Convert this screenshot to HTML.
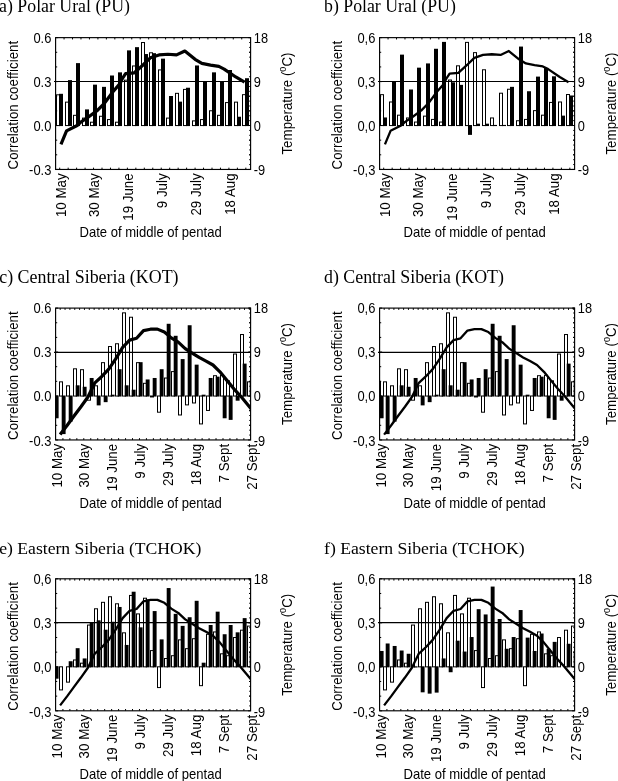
<!DOCTYPE html>
<html><head><meta charset="utf-8"><title>Figure</title>
<style>html,body{margin:0;padding:0;background:#fff}svg{display:block;filter:grayscale(1)}text{font-family:"Liberation Sans",sans-serif;font-size:13.33px;fill:#000}text.x{font-size:13.07px}text.t{font-family:"Liberation Serif",serif;font-size:17.8px}</style>
</head><body>
<svg width="618" height="781" viewBox="0 0 618 781">
<rect width="618" height="781" fill="#fff"/>
<g>
<clipPath id="c0"><rect x="55.6" y="37.64" width="195" height="131.81"/></clipPath>
<g clip-path="url(#c0)"><rect x="56.5" y="94.82" width="3" height="30.75" fill="#fff" stroke="#000" stroke-width="1.0"/><rect x="59" y="93.81" width="4" height="32.26"/><rect x="65.5" y="102.14" width="3" height="23.42" fill="#fff" stroke="#000" stroke-width="1.0"/><rect x="68" y="80.11" width="4" height="45.95"/><rect x="73.5" y="115.32" width="3" height="10.24" fill="#fff" stroke="#000" stroke-width="1.0"/><rect x="76" y="63.12" width="4" height="62.94"/><rect x="82.5" y="118.1" width="3" height="7.46" fill="#fff" stroke="#000" stroke-width="1.0"/><rect x="85" y="109.4" width="4" height="16.66"/><rect x="90.5" y="122.21" width="3" height="3.36" fill="#fff" stroke="#000" stroke-width="1.0"/><rect x="93" y="84.65" width="4" height="41.41"/><rect x="99.5" y="116.27" width="3" height="9.29" fill="#fff" stroke="#000" stroke-width="1.0"/><rect x="102" y="86.85" width="4" height="39.21"/><rect x="107.5" y="119.57" width="3" height="5.99" fill="#fff" stroke="#000" stroke-width="1.0"/><rect x="110" y="75.5" width="4" height="50.56"/><rect x="115.5" y="122.21" width="3" height="3.36" fill="#fff" stroke="#000" stroke-width="1.0"/><rect x="118" y="72.35" width="4" height="53.71"/><rect x="124.5" y="80.17" width="3" height="45.39" fill="#fff" stroke="#000" stroke-width="1.0"/><rect x="127" y="50.38" width="4" height="75.68"/><rect x="132.5" y="65.97" width="3" height="59.6" fill="#fff" stroke="#000" stroke-width="1.0"/><rect x="135" y="47.16" width="4" height="78.9"/><rect x="141.5" y="42.53" width="3" height="83.03" fill="#fff" stroke="#000" stroke-width="1.0"/><rect x="144" y="54.04" width="4" height="72.02"/><rect x="149.5" y="52.79" width="3" height="72.78" fill="#fff" stroke="#000" stroke-width="1.0"/><rect x="152" y="53.16" width="4" height="72.9"/><rect x="158.5" y="69.92" width="3" height="55.64" fill="#fff" stroke="#000" stroke-width="1.0"/><rect x="161" y="58.66" width="4" height="67.41"/><rect x="166.5" y="118.1" width="3" height="7.46" fill="#fff" stroke="#000" stroke-width="1.0"/><rect x="169" y="96" width="4" height="30.06"/><rect x="175.5" y="93.35" width="3" height="32.21" fill="#fff" stroke="#000" stroke-width="1.0"/><rect x="178" y="101.64" width="4" height="24.42"/><rect x="183.5" y="89.4" width="3" height="36.16" fill="#fff" stroke="#000" stroke-width="1.0"/><rect x="186" y="87.73" width="4" height="38.34"/><rect x="192.5" y="120.89" width="3" height="4.68" fill="#fff" stroke="#000" stroke-width="1.0"/><rect x="195" y="65.47" width="4" height="60.6"/><rect x="200.5" y="119.57" width="3" height="5.99" fill="#fff" stroke="#000" stroke-width="1.0"/><rect x="203" y="81.87" width="4" height="44.19"/><rect x="209.5" y="110.78" width="3" height="14.78" fill="#fff" stroke="#000" stroke-width="1.0"/><rect x="212" y="72.35" width="4" height="53.71"/><rect x="217.5" y="115.32" width="3" height="10.24" fill="#fff" stroke="#000" stroke-width="1.0"/><rect x="220" y="81.58" width="4" height="44.49"/><rect x="225.5" y="102.58" width="3" height="22.98" fill="#fff" stroke="#000" stroke-width="1.0"/><rect x="228" y="70.01" width="4" height="56.06"/><rect x="234.5" y="102.14" width="3" height="23.42" fill="#fff" stroke="#000" stroke-width="1.0"/><rect x="237" y="116.73" width="4" height="9.34"/><rect x="242.5" y="94.67" width="3" height="30.89" fill="#fff" stroke="#000" stroke-width="1.0"/><rect x="245" y="78.21" width="4" height="47.86"/></g>
<line x1="54" y1="81.5" x2="250.6" y2="81.5" stroke="#000" stroke-width="1.2"/>
<path d="M55.6 37.64h2.5M250.6 37.64h-2.5M55.6 52.29h1.6M250.6 52.29h-1.6M55.6 66.93h1.6M250.6 66.93h-1.6M55.6 81.58h2.5M250.6 81.58h-2.5M55.6 96.22h1.6M250.6 96.22h-1.6M55.6 110.87h1.6M250.6 110.87h-1.6M55.6 125.51h2.5M250.6 125.51h-2.5M55.6 140.16h1.6M250.6 140.16h-1.6M55.6 154.8h1.6M250.6 154.8h-1.6M55.6 169.45h2.5M250.6 169.45h-2.5M250.6 37.64h-1.4M250.6 42.52h-1.4M250.6 47.4h-1.4M250.6 52.29h-1.4M250.6 57.17h-1.4M250.6 62.05h-1.4M250.6 66.93h-1.4M250.6 71.81h-1.4M250.6 76.69h-1.4M250.6 81.58h-1.4M250.6 86.46h-1.4M250.6 91.34h-1.4M250.6 96.22h-1.4M250.6 101.1h-1.4M250.6 105.99h-1.4M250.6 110.87h-1.4M250.6 115.75h-1.4M250.6 120.63h-1.4M250.6 125.51h-1.4M250.6 130.4h-1.4M250.6 135.28h-1.4M250.6 140.16h-1.4M250.6 145.04h-1.4M250.6 149.92h-1.4M250.6 154.8h-1.4M250.6 159.69h-1.4M250.6 164.57h-1.4M64.06 37.64v1.8M72.52 37.64v1.8M80.98 37.64v1.8M89.44 37.64v1.8M97.91 37.64v1.8M106.37 37.64v1.8M114.83 37.64v1.8M123.29 37.64v1.8M131.75 37.64v1.8M140.21 37.64v1.8M148.67 37.64v1.8M157.13 37.64v1.8M165.59 37.64v1.8M174.05 37.64v1.8M182.52 37.64v1.8M190.98 37.64v1.8M199.44 37.64v1.8M207.9 37.64v1.8M216.36 37.64v1.8M224.82 37.64v1.8M233.28 37.64v1.8M241.74 37.64v1.8M59.7 169.45v-1.8M68.16 169.45v-1.8M76.62 169.45v-1.8M85.08 169.45v-1.8M93.54 169.45v-1.8M102 169.45v-1.8M110.47 169.45v-1.8M118.93 169.45v-1.8M127.39 169.45v-1.8M135.85 169.45v-1.8M144.31 169.45v-1.8M152.77 169.45v-1.8M161.23 169.45v-1.8M169.69 169.45v-1.8M178.15 169.45v-1.8M186.62 169.45v-1.8M195.08 169.45v-1.8M203.54 169.45v-1.8M212 169.45v-1.8M220.46 169.45v-1.8M228.92 169.45v-1.8M237.38 169.45v-1.8M245.84 169.45v-1.8" stroke="#000" stroke-width="1" fill="none"/>
<rect x="55.6" y="37.64" width="195" height="131.81" fill="none" stroke="#000" stroke-width="1.15"/>
<polyline points="60.95,144.36 66.55,130.83 77.15,125.51 81.15,121.9 88.45,116.97 97.4,110.38 104.6,103.06 112.95,91.73 119.75,83.92 122.65,78.11 125.6,73.67 134.35,72.79 143.05,64.98 150.35,57.85 159.05,54.92 167.85,54.24 176.55,54.92 184.85,51.02 195.05,59.36 201.85,63.42 210.55,65.17 218.85,66.44 224.15,69.08 235.75,76.99 244.55,82.21" fill="none" stroke="#000" stroke-width="3.2" stroke-linejoin="round" clip-path="url(#c0)"/>
<text transform="translate(51.4 42.64) scale(0.97 1.07)" text-anchor="end">0.6</text>
<text transform="translate(51.4 86.58) scale(0.97 1.07)" text-anchor="end">0.3</text>
<text transform="translate(51.4 130.51) scale(0.97 1.07)" text-anchor="end">0.0</text>
<text transform="translate(51.4 175.15) scale(0.97 1.07)" text-anchor="end">-0.3</text>
<text transform="translate(253.8 42.64) scale(0.96 1.07)">18</text>
<text transform="translate(253.8 86.58) scale(0.96 1.07)">9</text>
<text transform="translate(253.8 130.51) scale(0.96 1.07)">0</text>
<text transform="translate(253.8 175.15) scale(0.96 1.07)">-9</text>
<text transform="translate(65.6 173.35) rotate(-90) scale(1 1.045)" text-anchor="end">10 May</text>
<text transform="translate(99.44 173.35) rotate(-90) scale(1 1.045)" text-anchor="end">30 May</text>
<text transform="translate(133.28 173.35) rotate(-90) scale(1 1.045)" text-anchor="end">19 June</text>
<text transform="translate(167.12 173.35) rotate(-90) scale(1 1.045)" text-anchor="end">9 July</text>
<text transform="translate(200.96 173.35) rotate(-90) scale(1 1.045)" text-anchor="end">29 July</text>
<text transform="translate(234.8 173.35) rotate(-90) scale(1 1.045)" text-anchor="end">18 Aug</text>
<text transform="translate(150.6 236.95) scale(1 1.05)" text-anchor="middle" class="x">Date of middle of pentad</text>
<text transform="translate(17.9 105.14) rotate(-90) scale(1 1.045)" text-anchor="middle">Correlation coefficient</text>
<text transform="translate(291.8 103.54) rotate(-90) scale(1 1.045)" text-anchor="middle">Temperature (<tspan font-size="9" dy="-5.8">0</tspan><tspan dy="5.8">C)</tspan></text>
<text x="-0.9" y="12.4" class="t" style="font-size:17.8px">a) Polar Ural (PU)</text>
</g>
<g>
<clipPath id="c1"><rect x="379.6" y="37.64" width="195" height="131.81"/></clipPath>
<g clip-path="url(#c1)"><rect x="380.5" y="94.67" width="3" height="30.89" fill="#fff" stroke="#000" stroke-width="1.0"/><rect x="383" y="117.46" width="4" height="8.61"/><rect x="389.5" y="101.99" width="3" height="23.57" fill="#fff" stroke="#000" stroke-width="1.0"/><rect x="392" y="81.43" width="4" height="44.63"/><rect x="397.5" y="115.18" width="3" height="10.39" fill="#fff" stroke="#000" stroke-width="1.0"/><rect x="400" y="54.63" width="4" height="71.43"/><rect x="406.5" y="117.96" width="3" height="7.61" fill="#fff" stroke="#000" stroke-width="1.0"/><rect x="409" y="89.49" width="4" height="36.58"/><rect x="414.5" y="122.06" width="3" height="3.5" fill="#fff" stroke="#000" stroke-width="1.0"/><rect x="417" y="67.66" width="4" height="58.4"/><rect x="423.5" y="116.13" width="3" height="9.44" fill="#fff" stroke="#000" stroke-width="1.0"/><rect x="426" y="63.42" width="4" height="62.65"/><rect x="431.5" y="119.42" width="3" height="6.14" fill="#fff" stroke="#000" stroke-width="1.0"/><rect x="434" y="48.77" width="4" height="77.29"/><rect x="439.5" y="122.06" width="3" height="3.5" fill="#fff" stroke="#000" stroke-width="1.0"/><rect x="442" y="41.89" width="4" height="84.18"/><rect x="448.5" y="80.03" width="3" height="45.54" fill="#fff" stroke="#000" stroke-width="1.0"/><rect x="451" y="82.31" width="4" height="43.75"/><rect x="456.5" y="65.82" width="3" height="59.74" fill="#fff" stroke="#000" stroke-width="1.0"/><rect x="459" y="84.87" width="4" height="41.19"/><rect x="465.5" y="42.39" width="3" height="83.18" fill="#fff" stroke="#000" stroke-width="1.0"/><rect x="468" y="125.01" width="4" height="9.87"/><rect x="473.5" y="52.64" width="3" height="72.92" fill="#fff" stroke="#000" stroke-width="1.0"/><rect x="476" y="123.68" width="4" height="2.38"/><rect x="482.5" y="69.77" width="3" height="55.79" fill="#fff" stroke="#000" stroke-width="1.0"/><rect x="485" y="123.68" width="4" height="2.38"/><rect x="490.5" y="117.96" width="3" height="7.61" fill="#fff" stroke="#000" stroke-width="1.0"/><rect x="493" y="124.93" width="4" height="1.14"/><rect x="499.5" y="93.21" width="3" height="32.36" fill="#fff" stroke="#000" stroke-width="1.0"/><rect x="502" y="124.93" width="4" height="1.14"/><rect x="507.5" y="89.25" width="3" height="36.31" fill="#fff" stroke="#000" stroke-width="1.0"/><rect x="510" y="86.85" width="4" height="39.21"/><rect x="516.5" y="120.74" width="3" height="4.82" fill="#fff" stroke="#000" stroke-width="1.0"/><rect x="519" y="46.57" width="4" height="79.49"/><rect x="524.5" y="119.42" width="3" height="6.14" fill="#fff" stroke="#000" stroke-width="1.0"/><rect x="527" y="91.24" width="4" height="34.82"/><rect x="533.5" y="110.64" width="3" height="14.93" fill="#fff" stroke="#000" stroke-width="1.0"/><rect x="536" y="76.6" width="4" height="49.47"/><rect x="541.5" y="115.18" width="3" height="10.39" fill="#fff" stroke="#000" stroke-width="1.0"/><rect x="544" y="68.03" width="4" height="58.03"/><rect x="549.5" y="102.43" width="3" height="23.13" fill="#fff" stroke="#000" stroke-width="1.0"/><rect x="552" y="76.3" width="4" height="49.76"/><rect x="558.5" y="101.99" width="3" height="23.57" fill="#fff" stroke="#000" stroke-width="1.0"/><rect x="561" y="115.63" width="4" height="10.44"/><rect x="566.5" y="94.53" width="3" height="31.04" fill="#fff" stroke="#000" stroke-width="1.0"/><rect x="569" y="95.49" width="4" height="30.57"/></g>
<line x1="378" y1="81.5" x2="574.6" y2="81.5" stroke="#000" stroke-width="1.2"/>
<path d="M379.6 37.64h2.5M574.6 37.64h-2.5M379.6 52.29h1.6M574.6 52.29h-1.6M379.6 66.93h1.6M574.6 66.93h-1.6M379.6 81.58h2.5M574.6 81.58h-2.5M379.6 96.22h1.6M574.6 96.22h-1.6M379.6 110.87h1.6M574.6 110.87h-1.6M379.6 125.51h2.5M574.6 125.51h-2.5M379.6 140.16h1.6M574.6 140.16h-1.6M379.6 154.8h1.6M574.6 154.8h-1.6M379.6 169.45h2.5M574.6 169.45h-2.5M574.6 37.64h-1.4M574.6 42.52h-1.4M574.6 47.4h-1.4M574.6 52.29h-1.4M574.6 57.17h-1.4M574.6 62.05h-1.4M574.6 66.93h-1.4M574.6 71.81h-1.4M574.6 76.69h-1.4M574.6 81.58h-1.4M574.6 86.46h-1.4M574.6 91.34h-1.4M574.6 96.22h-1.4M574.6 101.1h-1.4M574.6 105.99h-1.4M574.6 110.87h-1.4M574.6 115.75h-1.4M574.6 120.63h-1.4M574.6 125.51h-1.4M574.6 130.4h-1.4M574.6 135.28h-1.4M574.6 140.16h-1.4M574.6 145.04h-1.4M574.6 149.92h-1.4M574.6 154.8h-1.4M574.6 159.69h-1.4M574.6 164.57h-1.4M388.06 37.64v1.8M396.52 37.64v1.8M404.98 37.64v1.8M413.44 37.64v1.8M421.91 37.64v1.8M430.37 37.64v1.8M438.83 37.64v1.8M447.29 37.64v1.8M455.75 37.64v1.8M464.21 37.64v1.8M472.67 37.64v1.8M481.13 37.64v1.8M489.59 37.64v1.8M498.05 37.64v1.8M506.52 37.64v1.8M514.98 37.64v1.8M523.44 37.64v1.8M531.9 37.64v1.8M540.36 37.64v1.8M548.82 37.64v1.8M557.28 37.64v1.8M565.74 37.64v1.8M383.7 169.45v-1.8M392.16 169.45v-1.8M400.62 169.45v-1.8M409.08 169.45v-1.8M417.54 169.45v-1.8M426.01 169.45v-1.8M434.47 169.45v-1.8M442.93 169.45v-1.8M451.39 169.45v-1.8M459.85 169.45v-1.8M468.31 169.45v-1.8M476.77 169.45v-1.8M485.23 169.45v-1.8M493.69 169.45v-1.8M502.15 169.45v-1.8M510.62 169.45v-1.8M519.08 169.45v-1.8M527.54 169.45v-1.8M536 169.45v-1.8M544.46 169.45v-1.8M552.92 169.45v-1.8M561.38 169.45v-1.8M569.84 169.45v-1.8" stroke="#000" stroke-width="1" fill="none"/>
<rect x="379.6" y="37.64" width="195" height="131.81" fill="none" stroke="#000" stroke-width="1.15"/>
<polyline points="384.95,144.36 390.55,130.83 401.15,125.51 405.15,121.9 412.45,116.97 421.4,110.38 428.6,103.06 436.95,91.73 443.75,83.92 446.65,78.11 449.6,73.67 458.35,72.79 467.05,64.98 474.35,57.85 483.05,54.92 491.85,54.24 500.55,54.92 508.85,51.02 519.05,59.36 525.85,63.42 534.55,65.17 542.85,66.44 548.15,69.08 559.75,76.99 568.55,82.21" fill="none" stroke="#000" stroke-width="2.3" stroke-linejoin="round" clip-path="url(#c1)"/>
<text transform="translate(375.4 42.64) scale(0.97 1.07)" text-anchor="end">0,6</text>
<text transform="translate(375.4 86.58) scale(0.97 1.07)" text-anchor="end">0,3</text>
<text transform="translate(375.4 130.51) scale(0.97 1.07)" text-anchor="end">0,0</text>
<text transform="translate(375.4 175.15) scale(0.97 1.07)" text-anchor="end">-0,3</text>
<text transform="translate(577.8 42.64) scale(0.96 1.07)">18</text>
<text transform="translate(577.8 86.58) scale(0.96 1.07)">9</text>
<text transform="translate(577.8 130.51) scale(0.96 1.07)">0</text>
<text transform="translate(577.8 175.15) scale(0.96 1.07)">-9</text>
<text transform="translate(389.6 173.35) rotate(-90) scale(1 1.045)" text-anchor="end">10 May</text>
<text transform="translate(423.44 173.35) rotate(-90) scale(1 1.045)" text-anchor="end">30 May</text>
<text transform="translate(457.28 173.35) rotate(-90) scale(1 1.045)" text-anchor="end">19 June</text>
<text transform="translate(491.12 173.35) rotate(-90) scale(1 1.045)" text-anchor="end">9 July</text>
<text transform="translate(524.96 173.35) rotate(-90) scale(1 1.045)" text-anchor="end">29 July</text>
<text transform="translate(558.8 173.35) rotate(-90) scale(1 1.045)" text-anchor="end">18 Aug</text>
<text transform="translate(474.6 236.95) scale(1 1.05)" text-anchor="middle" class="x">Date of middle of pentad</text>
<text transform="translate(341.9 105.14) rotate(-90) scale(1 1.045)" text-anchor="middle">Correlation coefficient</text>
<text transform="translate(615.8 103.54) rotate(-90) scale(1 1.045)" text-anchor="middle">Temperature (<tspan font-size="9" dy="-5.8">0</tspan><tspan dy="5.8">C)</tspan></text>
<text x="324" y="12.4" class="t" style="font-size:17.8px">b) Polar Ural (PU)</text>
</g>
<g>
<clipPath id="c2"><rect x="55.6" y="308.1" width="195" height="131.85"/></clipPath>
<g clip-path="url(#c2)"><rect x="52.5" y="381.41" width="3" height="14.64" fill="#fff" stroke="#000" stroke-width="1.0"/><rect x="54.7" y="395.5" width="3.9" height="22.77"/><rect x="59.5" y="381.85" width="3" height="14.2" fill="#fff" stroke="#000" stroke-width="1.0"/><rect x="61.7" y="395.5" width="3.9" height="38.59"/><rect x="66.5" y="385.81" width="3" height="10.24" fill="#fff" stroke="#000" stroke-width="1.0"/><rect x="68.7" y="395.5" width="3.9" height="26.14"/><rect x="73.5" y="368.81" width="3" height="27.24" fill="#fff" stroke="#000" stroke-width="1.0"/><rect x="75.7" y="385.31" width="3.9" height="11.24"/><rect x="80.5" y="369.69" width="3" height="26.36" fill="#fff" stroke="#000" stroke-width="1.0"/><rect x="82.7" y="386.77" width="3.9" height="9.78"/><rect x="87.5" y="396" width="3" height="4.19" fill="#fff" stroke="#000" stroke-width="1.0"/><rect x="89.7" y="377.98" width="3.9" height="18.57"/><rect x="94.5" y="385.81" width="3" height="10.24" fill="#fff" stroke="#000" stroke-width="1.0"/><rect x="96.7" y="395.5" width="3.9" height="9.88"/><rect x="101.5" y="362.66" width="3" height="33.39" fill="#fff" stroke="#000" stroke-width="1.0"/><rect x="103.7" y="395.5" width="3.9" height="6.65"/><rect x="108.5" y="346.54" width="3" height="49.51" fill="#fff" stroke="#000" stroke-width="1.0"/><rect x="110.7" y="394.68" width="3.9" height="1.87"/><rect x="115.5" y="343.76" width="3" height="52.29" fill="#fff" stroke="#000" stroke-width="1.0"/><rect x="117.7" y="369.19" width="3.9" height="27.36"/><rect x="122.5" y="312.85" width="3" height="83.2" fill="#fff" stroke="#000" stroke-width="1.0"/><rect x="124.7" y="385.31" width="3.9" height="11.24"/><rect x="129.5" y="317.24" width="3" height="78.81" fill="#fff" stroke="#000" stroke-width="1.0"/><rect x="131.7" y="389.7" width="3.9" height="6.85"/><rect x="136.5" y="362.66" width="3" height="33.39" fill="#fff" stroke="#000" stroke-width="1.0"/><rect x="138.7" y="362.16" width="3.9" height="34.39"/><rect x="143.5" y="383.31" width="3" height="12.74" fill="#fff" stroke="#000" stroke-width="1.0"/><rect x="145.7" y="379.45" width="3.9" height="17.1"/><rect x="150.5" y="396" width="3" height="0.96" fill="#fff" stroke="#000" stroke-width="1.0"/><rect x="152.7" y="377.98" width="3.9" height="18.57"/><rect x="157.5" y="396" width="3" height="16.2" fill="#fff" stroke="#000" stroke-width="1.0"/><rect x="159.7" y="369.19" width="3.9" height="27.36"/><rect x="164.5" y="378.04" width="3" height="18.01" fill="#fff" stroke="#000" stroke-width="1.0"/><rect x="166.7" y="323.78" width="3.9" height="72.77"/><rect x="171.5" y="371.6" width="3" height="24.45" fill="#fff" stroke="#000" stroke-width="1.0"/><rect x="173.7" y="335.79" width="3.9" height="60.76"/><rect x="178.5" y="396" width="3" height="18.98" fill="#fff" stroke="#000" stroke-width="1.0"/><rect x="180.7" y="359.08" width="3.9" height="37.47"/><rect x="185.5" y="396" width="3" height="8.88" fill="#fff" stroke="#000" stroke-width="1.0"/><rect x="187.7" y="325.24" width="3.9" height="71.31"/><rect x="192.5" y="396" width="3" height="6.97" fill="#fff" stroke="#000" stroke-width="1.0"/><rect x="194.7" y="364.65" width="3.9" height="31.9"/><rect x="199.5" y="396" width="3" height="27.92" fill="#fff" stroke="#000" stroke-width="1.0"/><rect x="201.7" y="394.68" width="3.9" height="1.87"/><rect x="206.5" y="396" width="3" height="14.44" fill="#fff" stroke="#000" stroke-width="1.0"/><rect x="208.7" y="377.98" width="3.9" height="18.57"/><rect x="213.5" y="375.7" width="3" height="20.35" fill="#fff" stroke="#000" stroke-width="1.0"/><rect x="215.7" y="376.66" width="3.9" height="19.89"/><rect x="220.5" y="375.26" width="3" height="20.79" fill="#fff" stroke="#000" stroke-width="1.0"/><rect x="222.7" y="395.5" width="3.9" height="22.77"/><rect x="226.5" y="380.82" width="3" height="15.23" fill="#fff" stroke="#000" stroke-width="1.0"/><rect x="228.7" y="395.5" width="3.9" height="24.38"/><rect x="233.5" y="354.01" width="3" height="42.04" fill="#fff" stroke="#000" stroke-width="1.0"/><rect x="235.7" y="395.5" width="3.9" height="5.19"/><rect x="240.5" y="334.53" width="3" height="61.52" fill="#fff" stroke="#000" stroke-width="1.0"/><rect x="242.7" y="363.62" width="3.9" height="32.93"/><rect x="247.5" y="381.85" width="3" height="14.2" fill="#fff" stroke="#000" stroke-width="1.0"/><rect x="249.7" y="380.91" width="3.9" height="15.64"/></g>
<line x1="54" y1="352.45" x2="250.6" y2="352.45" stroke="#000" stroke-width="1.2"/>
<path d="M55.6 308.1h2.5M250.6 308.1h-2.5M55.6 322.75h1.6M250.6 322.75h-1.6M55.6 337.4h1.6M250.6 337.4h-1.6M55.6 352.05h2.5M250.6 352.05h-2.5M55.6 366.7h1.6M250.6 366.7h-1.6M55.6 381.35h1.6M250.6 381.35h-1.6M55.6 396h2.5M250.6 396h-2.5M55.6 410.65h1.6M250.6 410.65h-1.6M55.6 425.3h1.6M250.6 425.3h-1.6M55.6 439.95h2.5M250.6 439.95h-2.5M250.6 308.1h-1.4M250.6 312.98h-1.4M250.6 317.87h-1.4M250.6 322.75h-1.4M250.6 327.63h-1.4M250.6 332.52h-1.4M250.6 337.4h-1.4M250.6 342.28h-1.4M250.6 347.17h-1.4M250.6 352.05h-1.4M250.6 356.93h-1.4M250.6 361.82h-1.4M250.6 366.7h-1.4M250.6 371.58h-1.4M250.6 376.47h-1.4M250.6 381.35h-1.4M250.6 386.23h-1.4M250.6 391.12h-1.4M250.6 396h-1.4M250.6 400.88h-1.4M250.6 405.77h-1.4M250.6 410.65h-1.4M250.6 415.53h-1.4M250.6 420.42h-1.4M250.6 425.3h-1.4M250.6 430.18h-1.4M250.6 435.07h-1.4M60.2 308.1v1.8M65.05 308.1v1.8M69.9 308.1v1.8M74.75 308.1v1.8M79.6 308.1v1.8M84.45 308.1v1.8M89.3 308.1v1.8M94.15 308.1v1.8M99 308.1v1.8M103.85 308.1v1.8M108.7 308.1v1.8M113.55 308.1v1.8M118.4 308.1v1.8M123.25 308.1v1.8M128.1 308.1v1.8M132.95 308.1v1.8M137.8 308.1v1.8M142.65 308.1v1.8M147.5 308.1v1.8M152.35 308.1v1.8M157.2 308.1v1.8M162.05 308.1v1.8M166.9 308.1v1.8M171.75 308.1v1.8M176.6 308.1v1.8M181.45 308.1v1.8M186.3 308.1v1.8M191.15 308.1v1.8M196 308.1v1.8M200.85 308.1v1.8M205.7 308.1v1.8M210.55 308.1v1.8M215.4 308.1v1.8M220.25 308.1v1.8M225.1 308.1v1.8M229.95 308.1v1.8M234.8 308.1v1.8M239.65 308.1v1.8M244.5 308.1v1.8M249.35 308.1v1.8M62.91 439.95v-1.8M69.87 439.95v-1.8M76.83 439.95v-1.8M83.79 439.95v-1.8M90.75 439.95v-1.8M97.71 439.95v-1.8M104.67 439.95v-1.8M111.63 439.95v-1.8M118.59 439.95v-1.8M125.55 439.95v-1.8M132.51 439.95v-1.8M139.47 439.95v-1.8M146.43 439.95v-1.8M153.39 439.95v-1.8M160.35 439.95v-1.8M167.31 439.95v-1.8M174.27 439.95v-1.8M181.23 439.95v-1.8M188.19 439.95v-1.8M195.15 439.95v-1.8M202.11 439.95v-1.8M209.07 439.95v-1.8M216.03 439.95v-1.8M222.99 439.95v-1.8M229.95 439.95v-1.8M236.91 439.95v-1.8M243.87 439.95v-1.8" stroke="#000" stroke-width="1" fill="none"/>
<rect x="55.6" y="308.1" width="195" height="131.85" fill="none" stroke="#000" stroke-width="1.15"/>
<polyline points="60.1,434.58 67.05,425.54 74,416.02 80.95,406.74 87.9,396.98 94.85,382.81 101.8,376.47 108.75,369.14 115.7,358.89 122.65,347.41 129.6,340.09 136.55,338.28 143.5,330.56 150.45,329.2 157.4,329.1 164.35,332.03 171.3,337.89 178.25,342.19 185.2,348.63 192.15,353.03 199.1,357.42 206.05,361.08 213,364.99 219.95,371.83 226.9,380.37 233.85,388.82 240.8,396.34 247.75,404.69 254.7,413.09" fill="none" stroke="#000" stroke-width="3.2" stroke-linejoin="round" clip-path="url(#c2)"/>
<text transform="translate(51.4 313.1) scale(0.97 1.07)" text-anchor="end">0.6</text>
<text transform="translate(51.4 357.05) scale(0.97 1.07)" text-anchor="end">0.3</text>
<text transform="translate(51.4 401) scale(0.97 1.07)" text-anchor="end">0.0</text>
<text transform="translate(51.4 445.65) scale(0.97 1.07)" text-anchor="end">-0.3</text>
<text transform="translate(253.8 313.1) scale(0.96 1.07)">18</text>
<text transform="translate(253.8 357.05) scale(0.96 1.07)">9</text>
<text transform="translate(253.8 401) scale(0.96 1.07)">0</text>
<text transform="translate(253.8 445.65) scale(0.96 1.07)">-9</text>
<text transform="translate(61.5 443.85) rotate(-90) scale(1 1.045)" text-anchor="end">10 May</text>
<text transform="translate(89.36 443.85) rotate(-90) scale(1 1.045)" text-anchor="end">30 May</text>
<text transform="translate(117.22 443.85) rotate(-90) scale(1 1.045)" text-anchor="end">19 June</text>
<text transform="translate(145.08 443.85) rotate(-90) scale(1 1.045)" text-anchor="end">9 July</text>
<text transform="translate(172.94 443.85) rotate(-90) scale(1 1.045)" text-anchor="end">29 July</text>
<text transform="translate(200.8 443.85) rotate(-90) scale(1 1.045)" text-anchor="end">18 Aug</text>
<text transform="translate(228.66 443.85) rotate(-90) scale(1 1.045)" text-anchor="end">7 Sept</text>
<text transform="translate(256.52 443.85) rotate(-90) scale(1 1.045)" text-anchor="end">27 Sept</text>
<text transform="translate(150.6 508.25) scale(1 1.05)" text-anchor="middle" class="x">Date of middle of pentad</text>
<text transform="translate(17.9 375.62) rotate(-90) scale(1 1.045)" text-anchor="middle">Correlation coefficient</text>
<text transform="translate(291.8 374.02) rotate(-90) scale(1 1.045)" text-anchor="middle">Temperature (<tspan font-size="9" dy="-5.8">0</tspan><tspan dy="5.8">C)</tspan></text>
<text x="-0.8" y="283" class="t" style="font-size:17.9px">c) Central Siberia (KOT)</text>
</g>
<g>
<clipPath id="c3"><rect x="379.6" y="308.1" width="195" height="131.85"/></clipPath>
<g clip-path="url(#c3)"><rect x="377.5" y="381.41" width="3" height="14.64" fill="#fff" stroke="#000" stroke-width="1.0"/><rect x="379.7" y="395.5" width="3.9" height="22.77"/><rect x="383.5" y="381.85" width="3" height="14.2" fill="#fff" stroke="#000" stroke-width="1.0"/><rect x="385.7" y="395.5" width="3.9" height="38.59"/><rect x="390.5" y="385.81" width="3" height="10.24" fill="#fff" stroke="#000" stroke-width="1.0"/><rect x="392.7" y="395.5" width="3.9" height="26.14"/><rect x="397.5" y="368.81" width="3" height="27.24" fill="#fff" stroke="#000" stroke-width="1.0"/><rect x="399.7" y="385.31" width="3.9" height="11.24"/><rect x="404.5" y="369.69" width="3" height="26.36" fill="#fff" stroke="#000" stroke-width="1.0"/><rect x="406.7" y="386.77" width="3.9" height="9.78"/><rect x="411.5" y="396" width="3" height="4.19" fill="#fff" stroke="#000" stroke-width="1.0"/><rect x="413.7" y="377.98" width="3.9" height="18.57"/><rect x="418.5" y="385.81" width="3" height="10.24" fill="#fff" stroke="#000" stroke-width="1.0"/><rect x="420.7" y="395.5" width="3.9" height="9.88"/><rect x="425.5" y="362.66" width="3" height="33.39" fill="#fff" stroke="#000" stroke-width="1.0"/><rect x="427.7" y="395.5" width="3.9" height="6.65"/><rect x="432.5" y="346.54" width="3" height="49.51" fill="#fff" stroke="#000" stroke-width="1.0"/><rect x="434.7" y="394.68" width="3.9" height="1.87"/><rect x="439.5" y="343.76" width="3" height="52.29" fill="#fff" stroke="#000" stroke-width="1.0"/><rect x="441.7" y="369.19" width="3.9" height="27.36"/><rect x="446.5" y="312.85" width="3" height="83.2" fill="#fff" stroke="#000" stroke-width="1.0"/><rect x="448.7" y="385.31" width="3.9" height="11.24"/><rect x="453.5" y="317.24" width="3" height="78.81" fill="#fff" stroke="#000" stroke-width="1.0"/><rect x="455.7" y="389.7" width="3.9" height="6.85"/><rect x="460.5" y="362.66" width="3" height="33.39" fill="#fff" stroke="#000" stroke-width="1.0"/><rect x="462.7" y="362.16" width="3.9" height="34.39"/><rect x="467.5" y="383.31" width="3" height="12.74" fill="#fff" stroke="#000" stroke-width="1.0"/><rect x="469.7" y="379.45" width="3.9" height="17.1"/><rect x="474.5" y="396" width="3" height="0.96" fill="#fff" stroke="#000" stroke-width="1.0"/><rect x="476.7" y="377.98" width="3.9" height="18.57"/><rect x="481.5" y="396" width="3" height="16.2" fill="#fff" stroke="#000" stroke-width="1.0"/><rect x="483.7" y="369.19" width="3.9" height="27.36"/><rect x="488.5" y="378.04" width="3" height="18.01" fill="#fff" stroke="#000" stroke-width="1.0"/><rect x="490.7" y="323.78" width="3.9" height="72.77"/><rect x="495.5" y="371.6" width="3" height="24.45" fill="#fff" stroke="#000" stroke-width="1.0"/><rect x="497.7" y="335.79" width="3.9" height="60.76"/><rect x="502.5" y="396" width="3" height="18.98" fill="#fff" stroke="#000" stroke-width="1.0"/><rect x="504.7" y="359.08" width="3.9" height="37.47"/><rect x="509.5" y="396" width="3" height="8.88" fill="#fff" stroke="#000" stroke-width="1.0"/><rect x="511.7" y="325.24" width="3.9" height="71.31"/><rect x="516.5" y="396" width="3" height="6.97" fill="#fff" stroke="#000" stroke-width="1.0"/><rect x="518.7" y="364.65" width="3.9" height="31.9"/><rect x="523.5" y="396" width="3" height="27.92" fill="#fff" stroke="#000" stroke-width="1.0"/><rect x="525.7" y="394.68" width="3.9" height="1.87"/><rect x="530.5" y="396" width="3" height="14.44" fill="#fff" stroke="#000" stroke-width="1.0"/><rect x="532.7" y="377.98" width="3.9" height="18.57"/><rect x="537.5" y="375.7" width="3" height="20.35" fill="#fff" stroke="#000" stroke-width="1.0"/><rect x="539.7" y="376.66" width="3.9" height="19.89"/><rect x="544.5" y="375.26" width="3" height="20.79" fill="#fff" stroke="#000" stroke-width="1.0"/><rect x="546.7" y="395.5" width="3.9" height="22.77"/><rect x="550.5" y="380.82" width="3" height="15.23" fill="#fff" stroke="#000" stroke-width="1.0"/><rect x="552.7" y="395.5" width="3.9" height="24.38"/><rect x="557.5" y="354.01" width="3" height="42.04" fill="#fff" stroke="#000" stroke-width="1.0"/><rect x="559.7" y="395.5" width="3.9" height="5.19"/><rect x="564.5" y="334.53" width="3" height="61.52" fill="#fff" stroke="#000" stroke-width="1.0"/><rect x="566.7" y="363.62" width="3.9" height="32.93"/><rect x="571.5" y="381.85" width="3" height="14.2" fill="#fff" stroke="#000" stroke-width="1.0"/><rect x="573.7" y="380.91" width="3.9" height="15.64"/></g>
<line x1="378" y1="352.45" x2="574.6" y2="352.45" stroke="#000" stroke-width="1.2"/>
<path d="M379.6 308.1h2.5M574.6 308.1h-2.5M379.6 322.75h1.6M574.6 322.75h-1.6M379.6 337.4h1.6M574.6 337.4h-1.6M379.6 352.05h2.5M574.6 352.05h-2.5M379.6 366.7h1.6M574.6 366.7h-1.6M379.6 381.35h1.6M574.6 381.35h-1.6M379.6 396h2.5M574.6 396h-2.5M379.6 410.65h1.6M574.6 410.65h-1.6M379.6 425.3h1.6M574.6 425.3h-1.6M379.6 439.95h2.5M574.6 439.95h-2.5M574.6 308.1h-1.4M574.6 312.98h-1.4M574.6 317.87h-1.4M574.6 322.75h-1.4M574.6 327.63h-1.4M574.6 332.52h-1.4M574.6 337.4h-1.4M574.6 342.28h-1.4M574.6 347.17h-1.4M574.6 352.05h-1.4M574.6 356.93h-1.4M574.6 361.82h-1.4M574.6 366.7h-1.4M574.6 371.58h-1.4M574.6 376.47h-1.4M574.6 381.35h-1.4M574.6 386.23h-1.4M574.6 391.12h-1.4M574.6 396h-1.4M574.6 400.88h-1.4M574.6 405.77h-1.4M574.6 410.65h-1.4M574.6 415.53h-1.4M574.6 420.42h-1.4M574.6 425.3h-1.4M574.6 430.18h-1.4M574.6 435.07h-1.4M384.2 308.1v1.8M389.05 308.1v1.8M393.9 308.1v1.8M398.75 308.1v1.8M403.6 308.1v1.8M408.45 308.1v1.8M413.3 308.1v1.8M418.15 308.1v1.8M423 308.1v1.8M427.85 308.1v1.8M432.7 308.1v1.8M437.55 308.1v1.8M442.4 308.1v1.8M447.25 308.1v1.8M452.1 308.1v1.8M456.95 308.1v1.8M461.8 308.1v1.8M466.65 308.1v1.8M471.5 308.1v1.8M476.35 308.1v1.8M481.2 308.1v1.8M486.05 308.1v1.8M490.9 308.1v1.8M495.75 308.1v1.8M500.6 308.1v1.8M505.45 308.1v1.8M510.3 308.1v1.8M515.15 308.1v1.8M520 308.1v1.8M524.85 308.1v1.8M529.7 308.1v1.8M534.55 308.1v1.8M539.4 308.1v1.8M544.25 308.1v1.8M549.1 308.1v1.8M553.95 308.1v1.8M558.8 308.1v1.8M563.65 308.1v1.8M568.5 308.1v1.8M573.35 308.1v1.8M386.91 439.95v-1.8M393.87 439.95v-1.8M400.83 439.95v-1.8M407.79 439.95v-1.8M414.75 439.95v-1.8M421.71 439.95v-1.8M428.67 439.95v-1.8M435.63 439.95v-1.8M442.59 439.95v-1.8M449.55 439.95v-1.8M456.51 439.95v-1.8M463.47 439.95v-1.8M470.43 439.95v-1.8M477.39 439.95v-1.8M484.35 439.95v-1.8M491.31 439.95v-1.8M498.27 439.95v-1.8M505.23 439.95v-1.8M512.19 439.95v-1.8M519.15 439.95v-1.8M526.11 439.95v-1.8M533.07 439.95v-1.8M540.03 439.95v-1.8M546.99 439.95v-1.8M553.95 439.95v-1.8M560.91 439.95v-1.8M567.87 439.95v-1.8" stroke="#000" stroke-width="1" fill="none"/>
<rect x="379.6" y="308.1" width="195" height="131.85" fill="none" stroke="#000" stroke-width="1.15"/>
<polyline points="384.1,434.58 391.05,425.54 398,416.02 404.95,406.74 411.9,396.98 418.85,382.81 425.8,376.47 432.75,369.14 439.7,358.89 446.65,347.41 453.6,340.09 460.55,338.28 467.5,330.56 474.45,329.2 481.4,329.1 488.35,332.03 495.3,337.89 502.25,342.19 509.2,348.63 516.15,353.03 523.1,357.42 530.05,361.08 537,364.99 543.95,371.83 550.9,380.37 557.85,388.82 564.8,396.34 571.75,404.69 578.7,413.09" fill="none" stroke="#000" stroke-width="2.3" stroke-linejoin="round" clip-path="url(#c3)"/>
<text transform="translate(375.4 313.1) scale(0.97 1.07)" text-anchor="end">0,6</text>
<text transform="translate(375.4 357.05) scale(0.97 1.07)" text-anchor="end">0,3</text>
<text transform="translate(375.4 401) scale(0.97 1.07)" text-anchor="end">0,0</text>
<text transform="translate(375.4 445.65) scale(0.97 1.07)" text-anchor="end">-0,3</text>
<text transform="translate(577.8 313.1) scale(0.96 1.07)">18</text>
<text transform="translate(577.8 357.05) scale(0.96 1.07)">9</text>
<text transform="translate(577.8 401) scale(0.96 1.07)">0</text>
<text transform="translate(577.8 445.65) scale(0.96 1.07)">-9</text>
<text transform="translate(385.5 443.85) rotate(-90) scale(1 1.045)" text-anchor="end">10 May</text>
<text transform="translate(413.36 443.85) rotate(-90) scale(1 1.045)" text-anchor="end">30 May</text>
<text transform="translate(441.22 443.85) rotate(-90) scale(1 1.045)" text-anchor="end">19 June</text>
<text transform="translate(469.08 443.85) rotate(-90) scale(1 1.045)" text-anchor="end">9 July</text>
<text transform="translate(496.94 443.85) rotate(-90) scale(1 1.045)" text-anchor="end">29 July</text>
<text transform="translate(524.8 443.85) rotate(-90) scale(1 1.045)" text-anchor="end">18 Aug</text>
<text transform="translate(552.66 443.85) rotate(-90) scale(1 1.045)" text-anchor="end">7 Sept</text>
<text transform="translate(580.52 443.85) rotate(-90) scale(1 1.045)" text-anchor="end">27 Sept</text>
<text transform="translate(474.6 508.25) scale(1 1.05)" text-anchor="middle" class="x">Date of middle of pentad</text>
<text transform="translate(341.9 375.62) rotate(-90) scale(1 1.045)" text-anchor="middle">Correlation coefficient</text>
<text transform="translate(615.8 374.02) rotate(-90) scale(1 1.045)" text-anchor="middle">Temperature (<tspan font-size="9" dy="-5.8">0</tspan><tspan dy="5.8">C)</tspan></text>
<text x="324" y="283.1" class="t" style="font-size:17.85px">d) Central Siberia (KOT)</text>
</g>
<g>
<clipPath id="c4"><rect x="55.6" y="578.8" width="195" height="132"/></clipPath>
<g clip-path="url(#c4)"><rect x="52.5" y="652.19" width="3" height="14.66" fill="#fff" stroke="#000" stroke-width="1.0"/><rect x="54.7" y="666.3" width="3.9" height="12.38"/><rect x="59.5" y="666.8" width="3" height="23.11" fill="#fff" stroke="#000" stroke-width="1.0"/><rect x="66.5" y="666.8" width="3" height="15.34" fill="#fff" stroke="#000" stroke-width="1.0"/><rect x="68.7" y="661.23" width="3.9" height="6.12"/><rect x="73.5" y="659.97" width="3" height="6.88" fill="#fff" stroke="#000" stroke-width="1.0"/><rect x="75.7" y="648.17" width="3.9" height="19.18"/><rect x="80.5" y="663.19" width="3" height="3.66" fill="#fff" stroke="#000" stroke-width="1.0"/><rect x="82.7" y="658.44" width="3.9" height="8.91"/><rect x="87.5" y="625.06" width="3" height="41.79" fill="#fff" stroke="#000" stroke-width="1.0"/><rect x="89.7" y="622.36" width="3.9" height="44.99"/><rect x="94.5" y="608.78" width="3" height="58.07" fill="#fff" stroke="#000" stroke-width="1.0"/><rect x="96.7" y="620.31" width="3.9" height="47.04"/><rect x="101.5" y="602.33" width="3" height="64.52" fill="#fff" stroke="#000" stroke-width="1.0"/><rect x="103.7" y="629.69" width="3.9" height="37.66"/><rect x="108.5" y="596.75" width="3" height="70.1" fill="#fff" stroke="#000" stroke-width="1.0"/><rect x="110.7" y="621.77" width="3.9" height="45.58"/><rect x="115.5" y="603.79" width="3" height="63.06" fill="#fff" stroke="#000" stroke-width="1.0"/><rect x="117.7" y="606.96" width="3.9" height="60.39"/><rect x="122.5" y="632.83" width="3" height="34.02" fill="#fff" stroke="#000" stroke-width="1.0"/><rect x="124.7" y="644.95" width="3.9" height="22.4"/><rect x="129.5" y="595.43" width="3" height="71.42" fill="#fff" stroke="#000" stroke-width="1.0"/><rect x="131.7" y="591.71" width="3.9" height="75.64"/><rect x="136.5" y="613.91" width="3" height="52.94" fill="#fff" stroke="#000" stroke-width="1.0"/><rect x="138.7" y="627.35" width="3.9" height="40"/><rect x="143.5" y="598.22" width="3" height="68.63" fill="#fff" stroke="#000" stroke-width="1.0"/><rect x="145.7" y="599.48" width="3.9" height="67.87"/><rect x="150.5" y="650.58" width="3" height="16.27" fill="#fff" stroke="#000" stroke-width="1.0"/><rect x="152.7" y="611.07" width="3.9" height="56.28"/><rect x="157.5" y="666.8" width="3" height="20.77" fill="#fff" stroke="#000" stroke-width="1.0"/><rect x="159.7" y="639.37" width="3.9" height="27.98"/><rect x="164.5" y="658.5" width="3" height="8.35" fill="#fff" stroke="#000" stroke-width="1.0"/><rect x="166.7" y="588.04" width="3.9" height="79.31"/><rect x="171.5" y="655.71" width="3" height="11.14" fill="#fff" stroke="#000" stroke-width="1.0"/><rect x="173.7" y="613.85" width="3.9" height="53.5"/><rect x="178.5" y="639.87" width="3" height="26.98" fill="#fff" stroke="#000" stroke-width="1.0"/><rect x="180.7" y="625.88" width="3.9" height="41.47"/><rect x="185.5" y="648.67" width="3" height="18.18" fill="#fff" stroke="#000" stroke-width="1.0"/><rect x="187.7" y="617.23" width="3.9" height="50.12"/><rect x="192.5" y="638.7" width="3" height="28.15" fill="#fff" stroke="#000" stroke-width="1.0"/><rect x="194.7" y="600.8" width="3.9" height="66.55"/><rect x="199.5" y="666.8" width="3" height="18.86" fill="#fff" stroke="#000" stroke-width="1.0"/><rect x="201.7" y="662.69" width="3.9" height="4.66"/><rect x="206.5" y="634.3" width="3" height="32.55" fill="#fff" stroke="#000" stroke-width="1.0"/><rect x="208.7" y="625" width="3.9" height="42.35"/><rect x="213.5" y="631.95" width="3" height="34.9" fill="#fff" stroke="#000" stroke-width="1.0"/><rect x="215.7" y="611.65" width="3.9" height="55.7"/><rect x="220.5" y="653.81" width="3" height="13.04" fill="#fff" stroke="#000" stroke-width="1.0"/><rect x="222.7" y="634.24" width="3.9" height="33.11"/><rect x="226.5" y="655.71" width="3" height="11.14" fill="#fff" stroke="#000" stroke-width="1.0"/><rect x="228.7" y="625" width="3.9" height="42.35"/><rect x="233.5" y="637.53" width="3" height="29.32" fill="#fff" stroke="#000" stroke-width="1.0"/><rect x="235.7" y="632.33" width="3.9" height="35.02"/><rect x="240.5" y="630.19" width="3" height="36.66" fill="#fff" stroke="#000" stroke-width="1.0"/><rect x="242.7" y="618.11" width="3.9" height="49.24"/><rect x="247.5" y="626.09" width="3" height="40.76" fill="#fff" stroke="#000" stroke-width="1.0"/><rect x="249.7" y="651.69" width="3.9" height="15.66"/></g>
<line x1="54" y1="622.6" x2="250.6" y2="622.6" stroke="#000" stroke-width="1.2"/>
<path d="M55.6 578.8h2.5M250.6 578.8h-2.5M55.6 593.47h1.6M250.6 593.47h-1.6M55.6 608.13h1.6M250.6 608.13h-1.6M55.6 622.8h2.5M250.6 622.8h-2.5M55.6 637.47h1.6M250.6 637.47h-1.6M55.6 652.13h1.6M250.6 652.13h-1.6M55.6 666.8h2.5M250.6 666.8h-2.5M55.6 681.47h1.6M250.6 681.47h-1.6M55.6 696.13h1.6M250.6 696.13h-1.6M55.6 710.8h2.5M250.6 710.8h-2.5M250.6 578.8h-1.4M250.6 583.69h-1.4M250.6 588.58h-1.4M250.6 593.47h-1.4M250.6 598.36h-1.4M250.6 603.24h-1.4M250.6 608.13h-1.4M250.6 613.02h-1.4M250.6 617.91h-1.4M250.6 622.8h-1.4M250.6 627.69h-1.4M250.6 632.58h-1.4M250.6 637.47h-1.4M250.6 642.36h-1.4M250.6 647.24h-1.4M250.6 652.13h-1.4M250.6 657.02h-1.4M250.6 661.91h-1.4M250.6 666.8h-1.4M250.6 671.69h-1.4M250.6 676.58h-1.4M250.6 681.47h-1.4M250.6 686.36h-1.4M250.6 691.24h-1.4M250.6 696.13h-1.4M250.6 701.02h-1.4M250.6 705.91h-1.4M60.2 578.8v1.8M65.05 578.8v1.8M69.9 578.8v1.8M74.75 578.8v1.8M79.6 578.8v1.8M84.45 578.8v1.8M89.3 578.8v1.8M94.15 578.8v1.8M99 578.8v1.8M103.85 578.8v1.8M108.7 578.8v1.8M113.55 578.8v1.8M118.4 578.8v1.8M123.25 578.8v1.8M128.1 578.8v1.8M132.95 578.8v1.8M137.8 578.8v1.8M142.65 578.8v1.8M147.5 578.8v1.8M152.35 578.8v1.8M157.2 578.8v1.8M162.05 578.8v1.8M166.9 578.8v1.8M171.75 578.8v1.8M176.6 578.8v1.8M181.45 578.8v1.8M186.3 578.8v1.8M191.15 578.8v1.8M196 578.8v1.8M200.85 578.8v1.8M205.7 578.8v1.8M210.55 578.8v1.8M215.4 578.8v1.8M220.25 578.8v1.8M225.1 578.8v1.8M229.95 578.8v1.8M234.8 578.8v1.8M239.65 578.8v1.8M244.5 578.8v1.8M249.35 578.8v1.8M62.91 710.8v-1.8M69.87 710.8v-1.8M76.83 710.8v-1.8M83.79 710.8v-1.8M90.75 710.8v-1.8M97.71 710.8v-1.8M104.67 710.8v-1.8M111.63 710.8v-1.8M118.59 710.8v-1.8M125.55 710.8v-1.8M132.51 710.8v-1.8M139.47 710.8v-1.8M146.43 710.8v-1.8M153.39 710.8v-1.8M160.35 710.8v-1.8M167.31 710.8v-1.8M174.27 710.8v-1.8M181.23 710.8v-1.8M188.19 710.8v-1.8M195.15 710.8v-1.8M202.11 710.8v-1.8M209.07 710.8v-1.8M216.03 710.8v-1.8M222.99 710.8v-1.8M229.95 710.8v-1.8M236.91 710.8v-1.8M243.87 710.8v-1.8" stroke="#000" stroke-width="1" fill="none"/>
<rect x="55.6" y="578.8" width="195" height="132" fill="none" stroke="#000" stroke-width="1.15"/>
<polyline points="60.1,705.42 67.05,696.38 74,686.84 80.95,677.56 87.9,667.78 94.85,653.6 101.8,647.24 108.75,639.91 115.7,629.64 122.65,618.16 129.6,610.82 136.55,609.01 143.5,601.29 150.45,599.92 157.4,599.82 164.35,602.76 171.3,608.62 178.25,612.92 185.2,619.38 192.15,623.78 199.1,628.18 206.05,631.84 213,635.76 219.95,642.6 226.9,651.16 233.85,659.61 240.8,667.14 247.75,675.5 254.7,683.91" fill="none" stroke="#000" stroke-width="2.3" stroke-linejoin="round" clip-path="url(#c4)"/>
<text transform="translate(51.4 583.8) scale(0.97 1.07)" text-anchor="end">0,6</text>
<text transform="translate(51.4 627.8) scale(0.97 1.07)" text-anchor="end">0,3</text>
<text transform="translate(51.4 671.8) scale(0.97 1.07)" text-anchor="end">0,0</text>
<text transform="translate(51.4 716.5) scale(0.97 1.07)" text-anchor="end">-0,3</text>
<text transform="translate(253.8 583.8) scale(0.96 1.07)">18</text>
<text transform="translate(253.8 627.8) scale(0.96 1.07)">9</text>
<text transform="translate(253.8 671.8) scale(0.96 1.07)">0</text>
<text transform="translate(253.8 716.5) scale(0.96 1.07)">-9</text>
<text transform="translate(61.5 714.7) rotate(-90) scale(1 1.045)" text-anchor="end">10 May</text>
<text transform="translate(89.36 714.7) rotate(-90) scale(1 1.045)" text-anchor="end">30 May</text>
<text transform="translate(117.22 714.7) rotate(-90) scale(1 1.045)" text-anchor="end">19 June</text>
<text transform="translate(145.08 714.7) rotate(-90) scale(1 1.045)" text-anchor="end">9 July</text>
<text transform="translate(172.94 714.7) rotate(-90) scale(1 1.045)" text-anchor="end">29 July</text>
<text transform="translate(200.8 714.7) rotate(-90) scale(1 1.045)" text-anchor="end">18 Aug</text>
<text transform="translate(228.66 714.7) rotate(-90) scale(1 1.045)" text-anchor="end">7 Sept</text>
<text transform="translate(256.52 714.7) rotate(-90) scale(1 1.045)" text-anchor="end">27 Sept</text>
<text transform="translate(150.6 778.6) scale(1 1.05)" text-anchor="middle" class="x">Date of middle of pentad</text>
<text transform="translate(17.9 646.4) rotate(-90) scale(1 1.045)" text-anchor="middle">Correlation coefficient</text>
<text transform="translate(291.8 644.8) rotate(-90) scale(1 1.045)" text-anchor="middle">Temperature (<tspan font-size="9" dy="-5.8">0</tspan><tspan dy="5.8">C)</tspan></text>
<text x="-0.8" y="553.5" class="t" style="font-size:17.64px">e) Eastern Siberia (TCHOK)</text>
</g>
<g>
<clipPath id="c5"><rect x="379.6" y="578.8" width="195" height="132"/></clipPath>
<g clip-path="url(#c5)"><rect x="377.5" y="652.19" width="3" height="14.66" fill="#fff" stroke="#000" stroke-width="1.0"/><rect x="379.7" y="650.96" width="3.9" height="16.39"/><rect x="383.5" y="666.8" width="3" height="23.11" fill="#fff" stroke="#000" stroke-width="1.0"/><rect x="385.7" y="643.48" width="3.9" height="23.87"/><rect x="390.5" y="666.8" width="3" height="15.34" fill="#fff" stroke="#000" stroke-width="1.0"/><rect x="392.7" y="645.97" width="3.9" height="21.38"/><rect x="397.5" y="659.97" width="3" height="6.88" fill="#fff" stroke="#000" stroke-width="1.0"/><rect x="399.7" y="650.52" width="3.9" height="16.83"/><rect x="404.5" y="663.19" width="3" height="3.66" fill="#fff" stroke="#000" stroke-width="1.0"/><rect x="406.7" y="653.75" width="3.9" height="13.6"/><rect x="411.5" y="625.06" width="3" height="41.79" fill="#fff" stroke="#000" stroke-width="1.0"/><rect x="413.7" y="666.3" width="3.9" height="1.23"/><rect x="418.5" y="608.78" width="3" height="58.07" fill="#fff" stroke="#000" stroke-width="1.0"/><rect x="420.7" y="666.3" width="3.9" height="26.02"/><rect x="425.5" y="602.33" width="3" height="64.52" fill="#fff" stroke="#000" stroke-width="1.0"/><rect x="427.7" y="666.3" width="3.9" height="27.34"/><rect x="432.5" y="596.75" width="3" height="70.1" fill="#fff" stroke="#000" stroke-width="1.0"/><rect x="434.7" y="666.3" width="3.9" height="26.31"/><rect x="439.5" y="603.79" width="3" height="63.06" fill="#fff" stroke="#000" stroke-width="1.0"/><rect x="441.7" y="658.44" width="3.9" height="8.91"/><rect x="446.5" y="632.83" width="3" height="34.02" fill="#fff" stroke="#000" stroke-width="1.0"/><rect x="448.7" y="666.3" width="3.9" height="5.93"/><rect x="453.5" y="595.43" width="3" height="71.42" fill="#fff" stroke="#000" stroke-width="1.0"/><rect x="455.7" y="640.69" width="3.9" height="26.66"/><rect x="460.5" y="613.91" width="3" height="52.94" fill="#fff" stroke="#000" stroke-width="1.0"/><rect x="462.7" y="651.55" width="3.9" height="15.8"/><rect x="467.5" y="598.22" width="3" height="68.63" fill="#fff" stroke="#000" stroke-width="1.0"/><rect x="469.7" y="637.03" width="3.9" height="30.32"/><rect x="474.5" y="650.58" width="3" height="16.27" fill="#fff" stroke="#000" stroke-width="1.0"/><rect x="476.7" y="609.16" width="3.9" height="58.19"/><rect x="481.5" y="666.8" width="3" height="20.77" fill="#fff" stroke="#000" stroke-width="1.0"/><rect x="483.7" y="614.44" width="3.9" height="52.91"/><rect x="488.5" y="658.5" width="3" height="8.35" fill="#fff" stroke="#000" stroke-width="1.0"/><rect x="490.7" y="586.57" width="3.9" height="80.78"/><rect x="495.5" y="655.71" width="3" height="11.14" fill="#fff" stroke="#000" stroke-width="1.0"/><rect x="497.7" y="618.99" width="3.9" height="48.36"/><rect x="502.5" y="639.87" width="3" height="26.98" fill="#fff" stroke="#000" stroke-width="1.0"/><rect x="504.7" y="648.76" width="3.9" height="18.59"/><rect x="509.5" y="648.67" width="3" height="18.18" fill="#fff" stroke="#000" stroke-width="1.0"/><rect x="511.7" y="637.03" width="3.9" height="30.32"/><rect x="516.5" y="638.7" width="3" height="28.15" fill="#fff" stroke="#000" stroke-width="1.0"/><rect x="518.7" y="610.04" width="3.9" height="57.31"/><rect x="523.5" y="666.8" width="3" height="18.86" fill="#fff" stroke="#000" stroke-width="1.0"/><rect x="525.7" y="637.61" width="3.9" height="29.74"/><rect x="530.5" y="634.3" width="3" height="32.55" fill="#fff" stroke="#000" stroke-width="1.0"/><rect x="532.7" y="650.96" width="3.9" height="16.39"/><rect x="537.5" y="631.95" width="3" height="34.9" fill="#fff" stroke="#000" stroke-width="1.0"/><rect x="539.7" y="633.51" width="3.9" height="33.84"/><rect x="544.5" y="653.81" width="3" height="13.04" fill="#fff" stroke="#000" stroke-width="1.0"/><rect x="546.7" y="648.76" width="3.9" height="18.59"/><rect x="550.5" y="655.71" width="3" height="11.14" fill="#fff" stroke="#000" stroke-width="1.0"/><rect x="552.7" y="641.87" width="3.9" height="25.48"/><rect x="557.5" y="637.53" width="3" height="29.32" fill="#fff" stroke="#000" stroke-width="1.0"/><rect x="564.5" y="630.19" width="3" height="36.66" fill="#fff" stroke="#000" stroke-width="1.0"/><rect x="566.7" y="643.77" width="3.9" height="23.58"/><rect x="571.5" y="626.09" width="3" height="40.76" fill="#fff" stroke="#000" stroke-width="1.0"/><rect x="573.7" y="651.69" width="3.9" height="15.66"/></g>
<line x1="378" y1="622.6" x2="574.6" y2="622.6" stroke="#000" stroke-width="1.2"/>
<path d="M379.6 578.8h2.5M574.6 578.8h-2.5M379.6 593.47h1.6M574.6 593.47h-1.6M379.6 608.13h1.6M574.6 608.13h-1.6M379.6 622.8h2.5M574.6 622.8h-2.5M379.6 637.47h1.6M574.6 637.47h-1.6M379.6 652.13h1.6M574.6 652.13h-1.6M379.6 666.8h2.5M574.6 666.8h-2.5M379.6 681.47h1.6M574.6 681.47h-1.6M379.6 696.13h1.6M574.6 696.13h-1.6M379.6 710.8h2.5M574.6 710.8h-2.5M574.6 578.8h-1.4M574.6 583.69h-1.4M574.6 588.58h-1.4M574.6 593.47h-1.4M574.6 598.36h-1.4M574.6 603.24h-1.4M574.6 608.13h-1.4M574.6 613.02h-1.4M574.6 617.91h-1.4M574.6 622.8h-1.4M574.6 627.69h-1.4M574.6 632.58h-1.4M574.6 637.47h-1.4M574.6 642.36h-1.4M574.6 647.24h-1.4M574.6 652.13h-1.4M574.6 657.02h-1.4M574.6 661.91h-1.4M574.6 666.8h-1.4M574.6 671.69h-1.4M574.6 676.58h-1.4M574.6 681.47h-1.4M574.6 686.36h-1.4M574.6 691.24h-1.4M574.6 696.13h-1.4M574.6 701.02h-1.4M574.6 705.91h-1.4M384.2 578.8v1.8M389.05 578.8v1.8M393.9 578.8v1.8M398.75 578.8v1.8M403.6 578.8v1.8M408.45 578.8v1.8M413.3 578.8v1.8M418.15 578.8v1.8M423 578.8v1.8M427.85 578.8v1.8M432.7 578.8v1.8M437.55 578.8v1.8M442.4 578.8v1.8M447.25 578.8v1.8M452.1 578.8v1.8M456.95 578.8v1.8M461.8 578.8v1.8M466.65 578.8v1.8M471.5 578.8v1.8M476.35 578.8v1.8M481.2 578.8v1.8M486.05 578.8v1.8M490.9 578.8v1.8M495.75 578.8v1.8M500.6 578.8v1.8M505.45 578.8v1.8M510.3 578.8v1.8M515.15 578.8v1.8M520 578.8v1.8M524.85 578.8v1.8M529.7 578.8v1.8M534.55 578.8v1.8M539.4 578.8v1.8M544.25 578.8v1.8M549.1 578.8v1.8M553.95 578.8v1.8M558.8 578.8v1.8M563.65 578.8v1.8M568.5 578.8v1.8M573.35 578.8v1.8M386.91 710.8v-1.8M393.87 710.8v-1.8M400.83 710.8v-1.8M407.79 710.8v-1.8M414.75 710.8v-1.8M421.71 710.8v-1.8M428.67 710.8v-1.8M435.63 710.8v-1.8M442.59 710.8v-1.8M449.55 710.8v-1.8M456.51 710.8v-1.8M463.47 710.8v-1.8M470.43 710.8v-1.8M477.39 710.8v-1.8M484.35 710.8v-1.8M491.31 710.8v-1.8M498.27 710.8v-1.8M505.23 710.8v-1.8M512.19 710.8v-1.8M519.15 710.8v-1.8M526.11 710.8v-1.8M533.07 710.8v-1.8M540.03 710.8v-1.8M546.99 710.8v-1.8M553.95 710.8v-1.8M560.91 710.8v-1.8M567.87 710.8v-1.8" stroke="#000" stroke-width="1" fill="none"/>
<rect x="379.6" y="578.8" width="195" height="132" fill="none" stroke="#000" stroke-width="1.15"/>
<polyline points="384.1,705.42 391.05,696.38 398,686.84 404.95,677.56 411.9,667.78 418.85,653.6 425.8,647.24 432.75,639.91 439.7,629.64 446.65,618.16 453.6,610.82 460.55,609.01 467.5,601.29 474.45,599.92 481.4,599.82 488.35,602.76 495.3,608.62 502.25,612.92 509.2,619.38 516.15,623.78 523.1,628.18 530.05,631.84 537,635.76 543.95,642.6 550.9,651.16 557.85,659.61 564.8,667.14 571.75,675.5 578.7,683.91" fill="none" stroke="#000" stroke-width="2.3" stroke-linejoin="round" clip-path="url(#c5)"/>
<text transform="translate(375.4 583.8) scale(0.97 1.07)" text-anchor="end">0,6</text>
<text transform="translate(375.4 627.8) scale(0.97 1.07)" text-anchor="end">0,3</text>
<text transform="translate(375.4 671.8) scale(0.97 1.07)" text-anchor="end">0,0</text>
<text transform="translate(375.4 716.5) scale(0.97 1.07)" text-anchor="end">-0,3</text>
<text transform="translate(577.8 583.8) scale(0.96 1.07)">18</text>
<text transform="translate(577.8 627.8) scale(0.96 1.07)">9</text>
<text transform="translate(577.8 671.8) scale(0.96 1.07)">0</text>
<text transform="translate(577.8 716.5) scale(0.96 1.07)">-9</text>
<text transform="translate(385.5 714.7) rotate(-90) scale(1 1.045)" text-anchor="end">10 May</text>
<text transform="translate(413.36 714.7) rotate(-90) scale(1 1.045)" text-anchor="end">30 May</text>
<text transform="translate(441.22 714.7) rotate(-90) scale(1 1.045)" text-anchor="end">19 June</text>
<text transform="translate(469.08 714.7) rotate(-90) scale(1 1.045)" text-anchor="end">9 July</text>
<text transform="translate(496.94 714.7) rotate(-90) scale(1 1.045)" text-anchor="end">29 July</text>
<text transform="translate(524.8 714.7) rotate(-90) scale(1 1.045)" text-anchor="end">18 Aug</text>
<text transform="translate(552.66 714.7) rotate(-90) scale(1 1.045)" text-anchor="end">7 Sept</text>
<text transform="translate(580.52 714.7) rotate(-90) scale(1 1.045)" text-anchor="end">27 Sept</text>
<text transform="translate(474.6 778.6) scale(1 1.05)" text-anchor="middle" class="x">Date of middle of pentad</text>
<text transform="translate(341.9 646.4) rotate(-90) scale(1 1.045)" text-anchor="middle">Correlation coefficient</text>
<text transform="translate(615.8 644.8) rotate(-90) scale(1 1.045)" text-anchor="middle">Temperature (<tspan font-size="9" dy="-5.8">0</tspan><tspan dy="5.8">C)</tspan></text>
<text x="324" y="553.6" class="t" style="font-size:17.67px">f) Eastern Siberia (TCHOK)</text>
</g>
</svg>
</body></html>
